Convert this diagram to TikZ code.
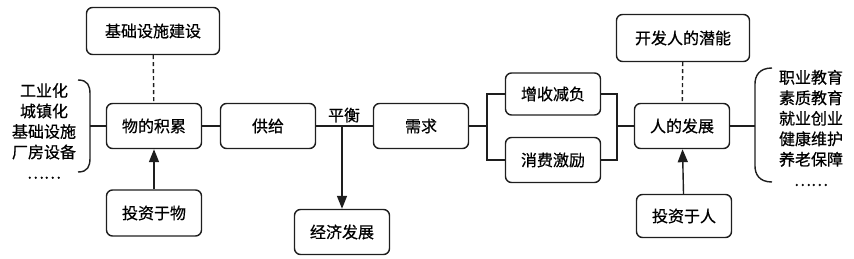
\documentclass[tikz,border=0pt]{standalone}
\usepackage{fontspec}
\setmainfont[FakeBold=0.6]{Noto Sans CJK SC}
\usepackage{tikz}
\usetikzlibrary{arrows.meta, positioning, calc}
\definecolor{linecolor}{RGB}{30,30,30}

\begin{document}
\begin{tikzpicture}[
    x=1pt, y=-1pt,
    box/.style={rectangle, draw=linecolor, line width=1.4pt, rounded corners=6pt,
                minimum width=95pt, minimum height=45pt, text centered,
                font=\fontsize{16}{18}\selectfont},
    widebox/.style={box, minimum width=133pt, minimum height=47pt},
    link/.style={draw=linecolor, line width=1.4pt},
    arrow/.style={link, -{Triangle[length=13pt, width=10pt]}},
    hint/.style={link, dashed, dash pattern=on 4pt off 3pt},
    listing/.style={align=center, inner sep=0pt,
                font=\fontsize{16}{20.5}\selectfont}
]
    \useasboundingbox (0,0) rectangle (854,259);

    % main row
    \node[box] (matter) at (154,126) {物的积累};
    \node[box] (supply) at (268,126) {供给};
    \node[box] (demand) at (421,126) {需求};
    \node[box, minimum height=42pt] (income) at (553,94) {增收减负};
    \node[box] (consume) at (553,160) {消费激励};
    \node[box] (human) at (682,126) {人的发展};

    % upper and lower boxes
    \node[widebox] (infra) at (153,31) {基础设施建设};
    \node[widebox] (potential) at (683,38) {开发人的潜能};
    \node[box, minimum height=46pt] (invmatter) at (154,213) {投资于物};
    \node[box] (econ) at (342,232) {经济发展};
    \node[box, minimum height=43pt] (invhuman) at (684,216) {投资于人};

    % side lists
    \node[listing] (matterlist) at (44,131) {工业化\\城镇化\\基础设施\\厂房设备\\……};
    \node[listing] (humanlist) at (811,128) {职业教育\\素质教育\\就业创业\\健康维护\\养老保障\\……};

    \coordinate (lbr) at (90,126);
    \coordinate (rbr) at (755,126);
    \coordinate (bal) at (342,126);
    \coordinate (forkL) at (487,126);
    \coordinate (forkR) at (617,126);

    % brackets
    \draw[link] (78,80) .. controls (88,80) and (90,86) .. (90,94) -- (90,158)
        .. controls (90,166) and (88,172) .. (78,172);
    \draw[link] (772,68) .. controls (759,68) and (755,76) .. (755,84) -- (755,166)
        .. controls (755,174) and (759,182) .. (772,182);

    % connectors
    \draw[link] (lbr) -- (matter.west);
    \draw[link] (matter) -- (supply);
    \draw[link] (supply) -- (demand);
    \node[font=\fontsize{16}{18}\selectfont, above=0pt of bal, xshift=2pt] (ballabel) {平衡};
    \draw[arrow] (bal) -- (econ.north);
    \draw[link] (demand) -- (forkL);
    \draw[link] (income.west) -| (forkL) |- (consume.west);
    \draw[link] (income.east) -| (forkR) |- (consume.east);
    \draw[link] (forkR) -- (human.west);
    \draw[link] (human.east) -- (rbr);

    \draw[hint] (infra) -- (matter);
    \draw[hint] (potential) -- (human);
    \draw[arrow] (invmatter) -- (matter);
    \draw[arrow] (invhuman) -- (human);
\end{tikzpicture}
\end{document}
